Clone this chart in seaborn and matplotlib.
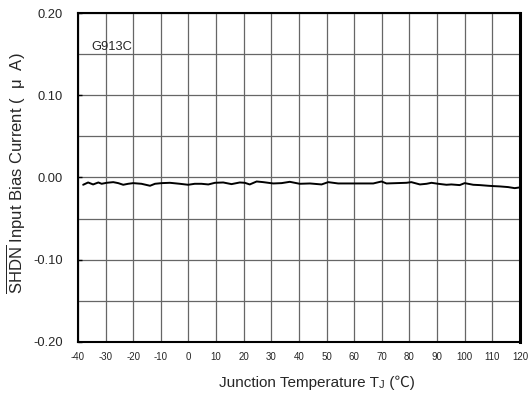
import numpy as np
import pandas as pd
import seaborn as sns
import matplotlib
matplotlib.use("Agg")
import matplotlib.pyplot as plt
from matplotlib.ticker import MultipleLocator

# values
temps = [-38.1, -36.3, -34.5, -32.6, -31.4, -29.6, -27.2, -25.4, -23.6, -21.8,
         -20.0, -17.0, -13.9, -12.1, -9.7, -6.7, -3.1, -0.1, 2.3, 4.7,
         7.2, 9.6, 12.6, 15.6, 18.6, 20.4, 22.2, 24.7, 27.1, 30.7,
         33.7, 36.7, 40.3, 44.0, 48.2, 50.6, 54.2, 57.8, 62.1, 66.9,
         69.9, 71.7, 75.3, 78.9, 80.7, 83.8, 86.2, 88.0, 90.4, 93.4,
         95.2, 98.2, 100.0, 103.1, 105.5, 108.5, 110.3, 112.7, 115.7, 118.1, 120.0]
current = [-0.0089, -0.0061, -0.0085, -0.0061, -0.0077, -0.0065, -0.0057, -0.0069, -0.0089, -0.0077,
           -0.0069, -0.0077, -0.0101, -0.0077, -0.0069, -0.0065, -0.0077, -0.0089, -0.0077, -0.0077,
           -0.0085, -0.0065, -0.0061, -0.0081, -0.0061, -0.0065, -0.0085, -0.0049, -0.0057, -0.0073,
           -0.0069, -0.0053, -0.0077, -0.0073, -0.0085, -0.0057, -0.0073, -0.0073, -0.0073, -0.0073,
           -0.0049, -0.0073, -0.0069, -0.0065, -0.0057, -0.0085, -0.0077, -0.0065, -0.0077, -0.0089,
           -0.0085, -0.0093, -0.0069, -0.0089, -0.0093, -0.0101, -0.0105, -0.0109, -0.0117, -0.0130, -0.0121]
xticks = list(range(-40, 121, 10))
yticks = [-0.20, -0.10, 0.00, 0.10, 0.20]

sns.set_theme(style="white")
plt.rcParams['font.family'] = ['Liberation Sans', 'Noto Sans CJK SC', 'DejaVu Sans']
plt.rcParams['mathtext.fontset'] = 'custom'
plt.rcParams['mathtext.rm'] = 'Liberation Sans'

fig, ax = plt.subplots(figsize=(5.3, 3.97), dpi=100)
fig.subplots_adjust(left=0.147, right=0.981, top=0.967, bottom=0.139)

df = pd.DataFrame({"T": temps, "I": current})
sns.lineplot(data=df, x="T", y="I", color="black", linewidth=1.4, ax=ax)

ax.set_xlim(-40, 120)
ax.set_ylim(-0.20, 0.20)
ax.set_xticks(xticks)
ax.set_xticklabels([str(t) for t in xticks], fontsize=7)
ax.set_yticks(yticks)
ax.set_yticklabels([f"{v:.2f}" for v in yticks], fontsize=9.3)
ax.yaxis.set_minor_locator(MultipleLocator(0.05))
ax.grid(True, which="both", color="#666666", linewidth=0.9)
ax.tick_params(axis="x", length=0, pad=7)
ax.tick_params(axis="y", which="major", direction="in", length=3, width=1, color="black", pad=11, left=True)
ax.tick_params(axis="y", which="minor", length=0)
for s in ax.spines.values():
    s.set_color("black")
    s.set_linewidth(1.5)
ax.spines["right"].set_linewidth(2.2)

ax.text(-35.0, 0.151, "G913C", fontsize=9.3, ha="left", va="bottom")

ax.set_xlabel("")
ax.set_ylabel("$\\overline{\\mathrm{SHDN}}$ Input Bias Current (  μ  A)", fontsize=12)
ax.yaxis.set_label_coords(-0.112, 0.512)

# x label built in pieces so the J is smaller and ℃ comes from the CJK font
W = fig.bbox.width
yb = 1 - 387.5 / 397
r = fig.canvas.get_renderer()
t1 = fig.text(219 / 530, yb, "Junction Temperature T", fontsize=11, va="baseline")
x1 = t1.get_window_extent(r).x1 / W
t2 = fig.text(x1, yb, "J", fontsize=8, va="baseline")
x2 = t2.get_window_extent(r).x1 / W
fig.text(x2, yb, " (℃)", fontsize=11, va="baseline")

fig.savefig("out.png", dpi=100)
